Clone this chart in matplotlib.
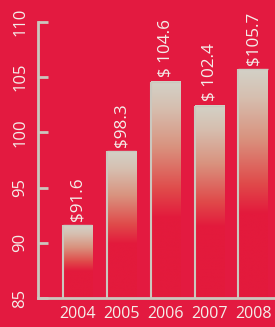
import numpy as np
import matplotlib
matplotlib.use("Agg")
import matplotlib.pyplot as plt
from matplotlib.colors import LinearSegmentedColormap

years = ["2004", "2005", "2006", "2007", "2008"]
values = [91.6, 98.3, 104.6, 102.4, 105.7]
labels = ["$91.6", "$98.3", "$ 104.6", "$ 102.4", "$105.7"]
yticks = [85, 90, 95, 100, 105, 110]

BG = "#E31A40"
AXC = "#CBC7BE"
TXT = "#F4EEEA"

plt.rcParams['font.family'] = ['Open Sans', 'DejaVu Sans']

fig = plt.figure(figsize=(2.75, 3.27), dpi=100, facecolor=BG)
ax = fig.add_axes([38/275, 29/327, 237/275, 276/327])
ax.set_facecolor(BG)

cmap = LinearSegmentedColormap.from_list(
    "g", [(0.0, "#E31A3C"), (0.37, "#E31A3C"), (0.50, "#E04A4A"),
          (0.70, "#D9937F"), (0.88, "#D6BFB0"), (1.0, "#D3D1C7")])
grad = np.linspace(1, 0, 256).reshape(-1, 1)

w = 0.68
x = np.arange(len(years))
base = 85
for xi, v, lab in zip(x, values, labels):
    ax.imshow(grad, cmap=cmap, aspect="auto",
              extent=[xi - w/2, xi + w/2, base, v], zorder=2,
              interpolation="bilinear")
    ax.plot([xi - w/2, xi - w/2], [base, v], color=AXC, lw=1.5, zorder=3,
            solid_capstyle="butt")
    ax.plot([xi - w/2, xi + w/2], [v, v], color=AXC, lw=1.0, zorder=3,
            solid_capstyle="butt")
    ax.text(xi + 0.0, v + 0.4, lab, rotation=90, ha="center", va="bottom",
            color=TXT, fontsize=12.3, zorder=4)

ax.set_xlim(-0.898, 4.49)
ax.set_ylim(85, 110)
ax.set_yticks(yticks)
ax.set_yticklabels([str(t) for t in yticks], rotation=90, va="center",
                   color=TXT, fontsize=12)
ax.set_xticks(x)
ax.set_xticklabels(years, color=TXT, fontsize=11.5)
ax.tick_params(axis="y", direction="in", length=7, width=2, color=AXC, pad=7)
ax.tick_params(axis="x", length=0, pad=6)

for s in ["top", "right"]:
    ax.spines[s].set_visible(False)
for s in ["left", "bottom"]:
    ax.spines[s].set_color(AXC)
    ax.spines[s].set_linewidth(2)

fig.savefig("out.png", dpi=100, facecolor=BG)
